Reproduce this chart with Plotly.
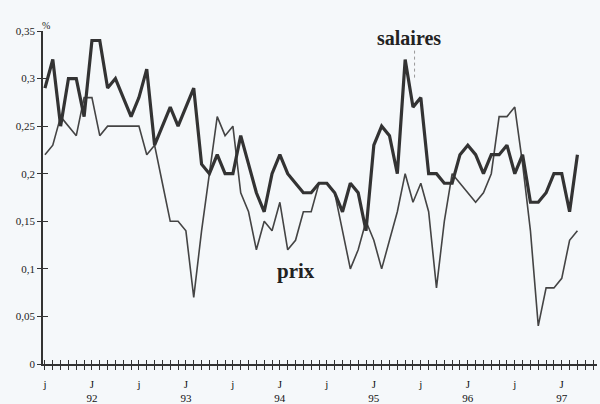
import numpy as np
import plotly.graph_objects as go

# Monthly series, July 1991 -> March 1997
salaires = [0.29, 0.32, 0.25, 0.30, 0.30, 0.26, 0.34, 0.34, 0.29, 0.30, 0.28, 0.26,
            0.28, 0.31, 0.23, 0.25, 0.27, 0.25, 0.27, 0.29, 0.21, 0.20, 0.22, 0.20,
            0.20, 0.24, 0.21, 0.18, 0.16, 0.20, 0.22, 0.20, 0.19, 0.18, 0.18, 0.19,
            0.19, 0.18, 0.16, 0.19, 0.18, 0.14, 0.23, 0.25, 0.24, 0.20, 0.32, 0.27,
            0.28, 0.20, 0.20, 0.19, 0.19, 0.22, 0.23, 0.22, 0.20, 0.22, 0.22, 0.23,
            0.20, 0.22, 0.17, 0.17, 0.18, 0.20, 0.20, 0.16, 0.22]
prix = [0.22, 0.23, 0.26, 0.25, 0.24, 0.28, 0.28, 0.24, 0.25, 0.25, 0.25, 0.25,
        0.25, 0.22, 0.23, 0.19, 0.15, 0.15, 0.14, 0.07, 0.14, 0.20, 0.26, 0.24,
        0.25, 0.18, 0.16, 0.12, 0.15, 0.14, 0.17, 0.12, 0.13, 0.16, 0.16, 0.19,
        0.19, 0.18, 0.14, 0.10, 0.12, 0.15, 0.13, 0.10, 0.13, 0.16, 0.20, 0.17,
        0.19, 0.16, 0.08, 0.15, 0.20, 0.19, 0.18, 0.17, 0.18, 0.20, 0.26, 0.26,
        0.27, 0.21, 0.14, 0.04, 0.08, 0.08, 0.09, 0.13, 0.14]

label_months = [0, 6, 12, 18, 24, 30, 36, 42, 48, 54, 60, 66]
label_texts = ["j", "J<br>92", "j", "J<br>93", "j", "J<br>94",
               "j", "J<br>95", "j", "J<br>96", "j", "J<br>97"]
y_ticks = [0, 0.05, 0.10, 0.15, 0.20, 0.25, 0.30, 0.35]
y_labels = ["0", "0,05", "0,1", "0,15", "0,2", "0,25", "0,3", "0,35"]

x = np.arange(len(salaires))
n_ticks = 71
tick_vals = list(range(n_ticks))
lab_map = dict(zip(label_months, label_texts))
tick_text = [lab_map.get(m, "") for m in tick_vals]

INK = "#333333"
BG = "#f5f8fa"
SERIF = "Liberation Serif, Times New Roman, serif"

fig = go.Figure()
fig.add_trace(go.Scatter(x=x, y=prix, mode="lines", name="prix",
                         line=dict(color="#444444", width=1.6), showlegend=False))
fig.add_trace(go.Scatter(x=x, y=salaires, mode="lines", name="salaires",
                         line=dict(color="#333333", width=3.2), showlegend=False))
# helper trace for the overlay axes (crossing ticks)
fig.add_trace(go.Scatter(x=[x[0]], y=[prix[0]], xaxis="x2", yaxis="y2", mode="markers",
                         marker=dict(opacity=0), showlegend=False, hoverinfo="skip"))

fig.update_layout(
    width=600, height=404,
    margin=dict(l=43, r=3, t=31, b=40, autoexpand=False),
    paper_bgcolor=BG, plot_bgcolor=BG,
    showlegend=False,
    xaxis=dict(range=[-0.25, 70.5], showgrid=False, zeroline=False, automargin=False,
               showline=True, linecolor=INK, linewidth=1.5,
               ticks="outside", ticklen=4, tickwidth=1, tickcolor=INK,
               tickmode="array", tickvals=tick_vals, ticktext=tick_text,
               ticklabelstandoff=5,
               tickfont=dict(family=SERIF, size=11, color="#111")),
    xaxis2=dict(overlaying="x", matches="x", anchor="y", showgrid=False, zeroline=False,
                automargin=False,
                showline=False, ticks="inside", ticklen=4, tickwidth=1, tickcolor=INK,
                tickmode="array", tickvals=tick_vals, showticklabels=False),
    yaxis=dict(range=[0, 0.35], showgrid=False, zeroline=False, automargin=False,
               showline=True, linecolor=INK, linewidth=1.5,
               ticks="outside", ticklen=4, tickwidth=1, tickcolor=INK,
               tickmode="array", tickvals=y_ticks, ticktext=y_labels,
               tickfont=dict(family=SERIF, size=11, color="#222")),
    yaxis2=dict(overlaying="y", matches="y", anchor="x", showgrid=False, zeroline=False,
                automargin=False,
                showline=False, ticks="inside", ticklen=5, tickwidth=1, tickcolor=INK,
                tickmode="array", tickvals=y_ticks, showticklabels=False),
)

fig.add_annotation(x=-0.005, y=1.04, xref="paper", yref="paper", text="%",
                   showarrow=False, font=dict(family=SERIF, size=10, color="#222"))
fig.add_annotation(x=46.5, y=0.343, text="<b>salaires</b>", showarrow=False,
                   font=dict(family=SERIF, size=20, color="#222"))
fig.add_annotation(x=32.0, y=0.098, text="<b>prix</b>", showarrow=False,
                   font=dict(family=SERIF, size=21, color="#222"))
fig.add_shape(type="line", x0=47.2, x1=47.2, y0=0.301, y1=0.331,
              line=dict(color="#999999", width=1, dash="dot"))

fig.write_html("out.html", config={"displayModeBar": False},
               post_script="document.body.style.margin='0px';document.body.style.overflow='hidden';")
